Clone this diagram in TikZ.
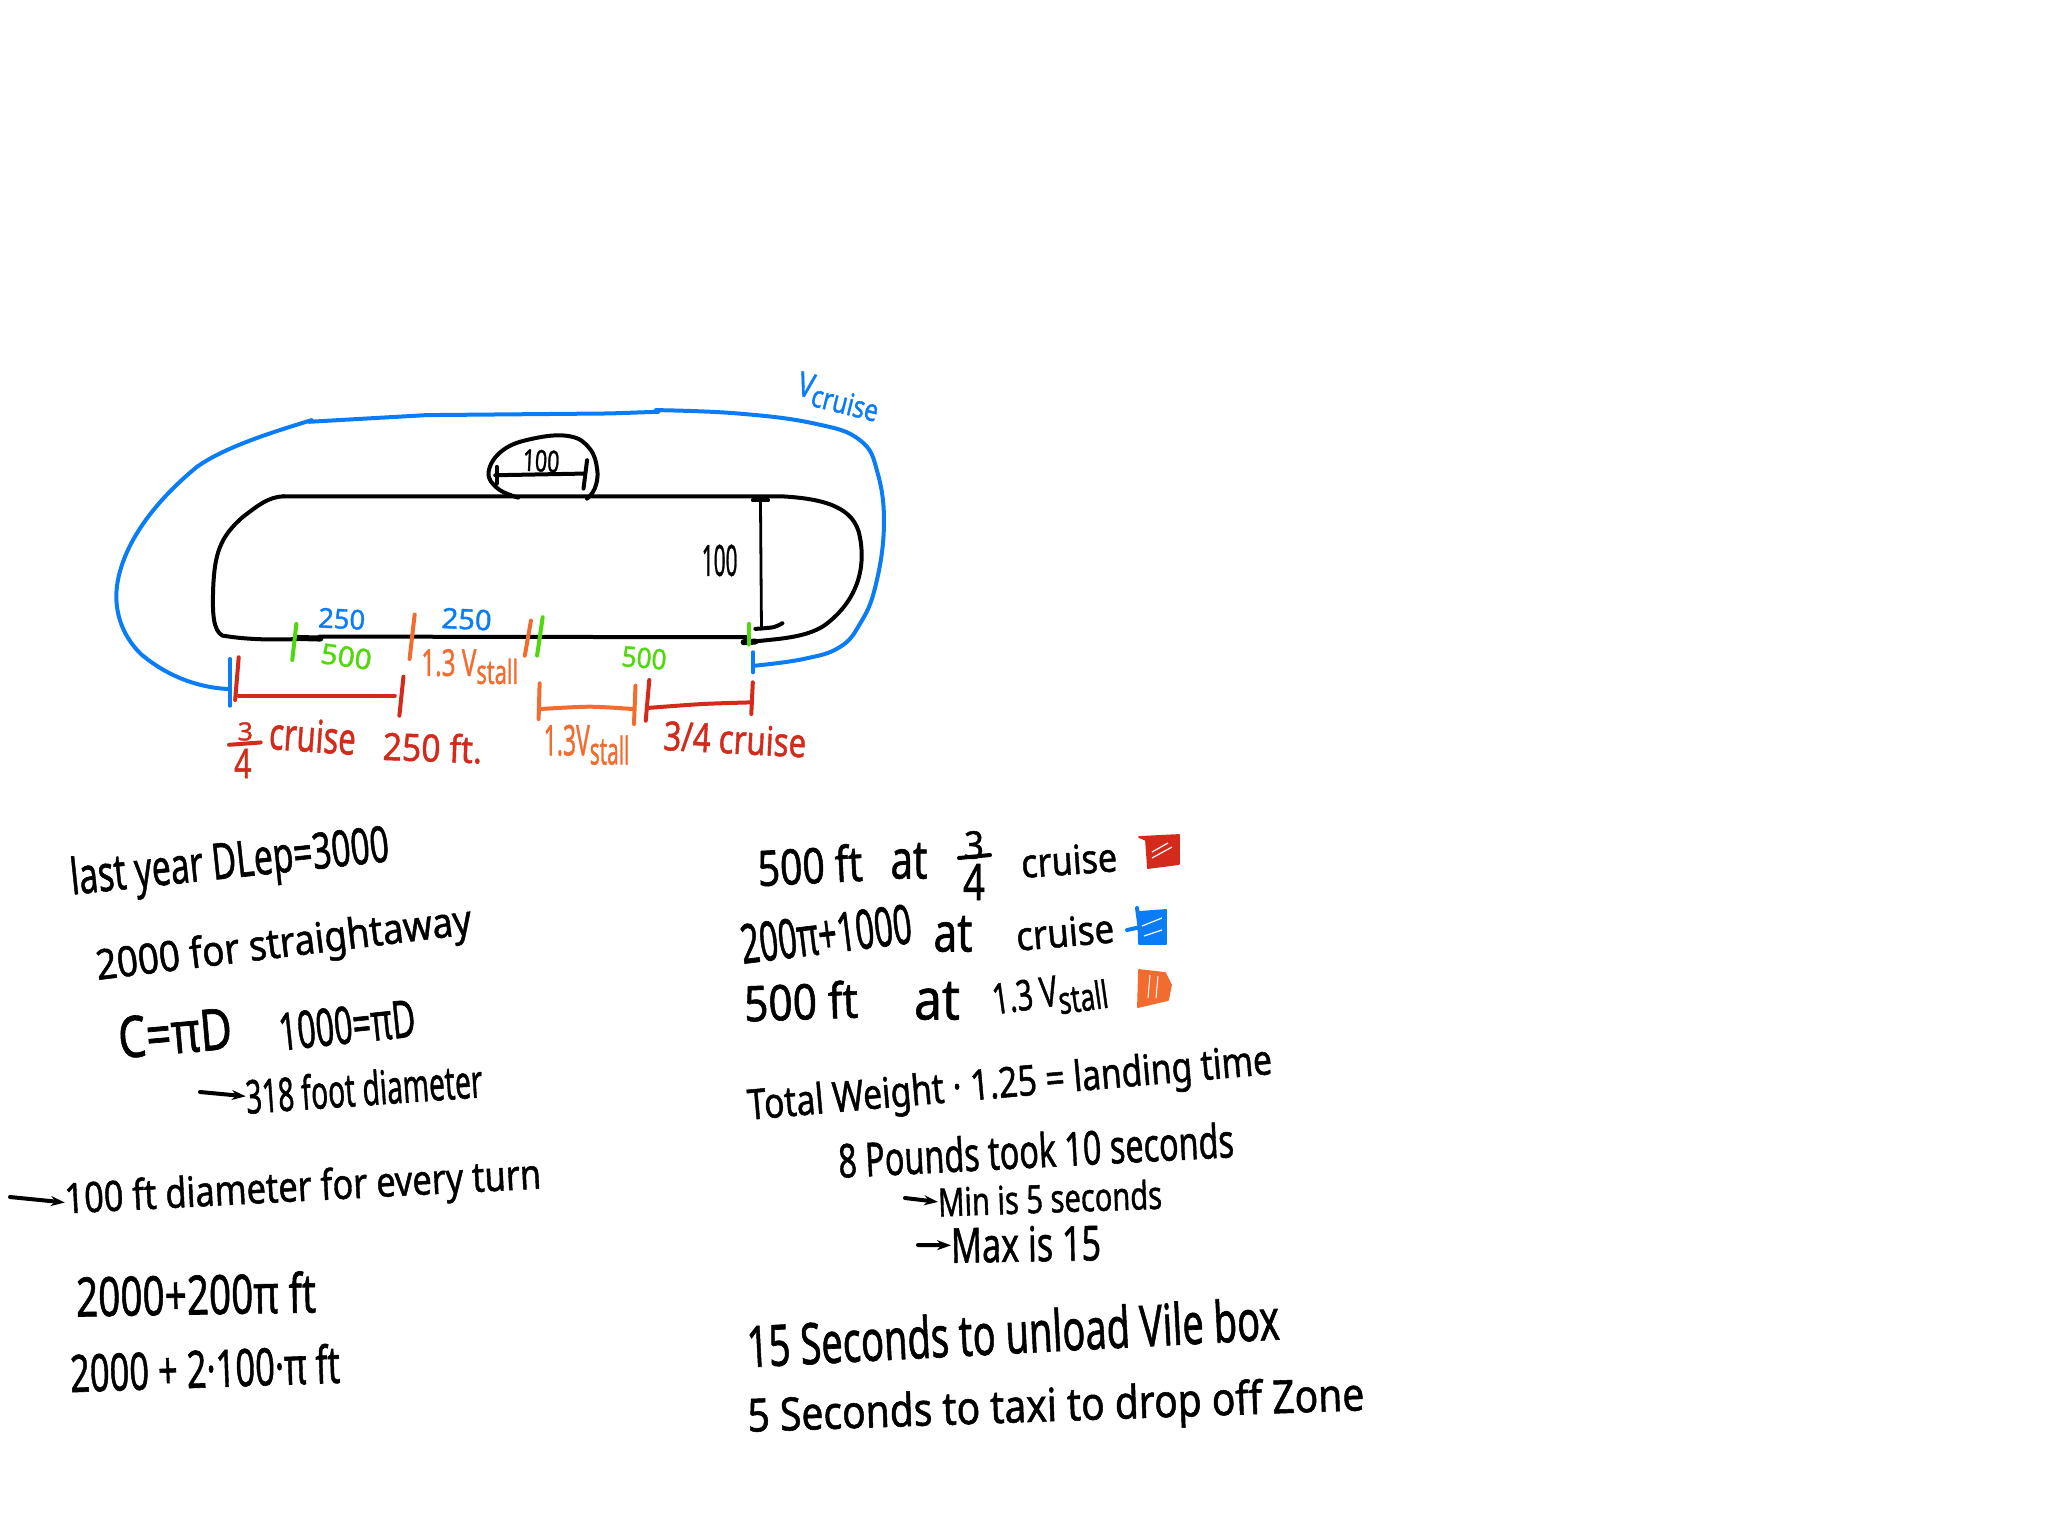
\documentclass[tikz,border=0pt]{standalone}
\usepackage{graphicx}
\usepackage{fontspec}
\setmainfont{Noto Sans}[FakeBold=1.2]
\usetikzlibrary{arrows.meta}
\definecolor{inkblue}{HTML}{0A7DF6}
\definecolor{inkred}{HTML}{D32A1B}
\definecolor{inkorange}{HTML}{F26C2F}
\definecolor{inkgreen}{HTML}{4FD80B}
\newdimen\cur
\newdimen\cury
\newcommand{\hw}[8][black]{\node[hand,text=#1,rotate=#7] (#2) at (#3,#4) {\resizebox*{#5\cur}{#6\cury}{#8}};}
\newcommand{\Vsub}[1]{V\raisebox{-0.4ex}{\small #1}}
\tikzset{
  hand/.style={inner sep=0pt,outer sep=0pt},
  pen/.style={line width=2pt,line cap=round,line join=round},
  penthin/.style={line width=1.4pt,line cap=round,line join=round},
  penthick/.style={line width=3pt,line cap=round},
  noteArrow/.style={line width=2pt,line cap=round,-{Stealth[length=7pt,width=5pt]}},
  swatch/.style={line width=0.9pt,line join=round}
}
\begin{document}
\begin{tikzpicture}[x=0.5pt,y=-0.5pt]
\useasboundingbox (0,0) rectangle (2048,1536);
\fill[white] (0,0) rectangle (2048,1536);
\cur=0.5pt \cury=0.5pt
% ---- diagram, in zoom-crop units
\begin{scope}[shift={(100,360)},x=0.255pt,y=-0.167pt]
\cur=0.255pt \cury=0.167pt
\draw[pen] (360,408) -- (1335,408) .. controls (1420,415) and (1480,440) .. (1490,530) .. controls (1505,650) and (1470,740) .. (1420,795) .. controls (1380,835) and (1320,835) .. (1270,845);
\draw[pen] (1270,830) -- (430,828);
\draw[pen] (430,832) .. controls (350,840) and (290,838) .. (240,825) .. controls (222,810) and (220,760) .. (222,680) .. controls (225,580) and (235,530) .. (280,470) .. controls (310,435) and (330,410) .. (360,408);
\draw[penthick] (385,832) -- (432,834);
\draw[penthick] (1262,845) -- (1285,843);
\draw[pen] plot[smooth,tension=0.7] coordinates {(820,412)(780,385)(762,335)(790,270)(850,235)(920,228)(960,265)(975,330)(970,385)(955,415)};
\draw[pen] (775,345) -- (950,340);
\draw[pen] (778,320) -- (778,370);
\draw[pen] (955,300) -- (948,385);
\hw{lblA}{865}{302}{72}{66}{-3}{100}
\draw[penthin] (1295,420) -- (1297,805);
\draw[pen] (1280,420) -- (1310,420);
\draw[pen] plot[smooth] coordinates {(1285,805)(1320,800)(1338,788)};
\hw{lblB}{1215}{600}{70}{95}{0}{100}
% blue
\draw[pen,inkblue] (250,985) .. controls (190,980) and (130,945) .. (80,880) .. controls (40,820) and (25,740) .. (35,660) .. controls (50,540) and (110,420) .. (190,320) .. controls (245,260) and (340,215) .. (415,180);
\draw[pen,inkblue] (410,185) -- (640,165) -- (1000,160) -- (1095,155);
\draw[pen,inkblue] plot[smooth,tension=0.7] coordinates {(1090,150)(1250,160)(1400,190)(1490,240)(1525,340)(1537,500)(1520,680)(1490,790)(1450,860)(1380,895)(1285,915)};
\draw[pen,inkblue] (255,895) -- (255,1035);
\draw[pen,inkblue] (1280,875) -- (1280,935);
\hw[inkblue]{lblVc}{1448}{110}{165}{95}{-14}{\Vsub{cruise}}
\hw[inkblue]{lblC}{474}{775}{92}{60}{-3}{250}
\hw[inkblue]{lblD}{719}{776}{98}{62}{-3}{250}
% green
\draw[pen,inkgreen] (385,790) -- (377,898);
\draw[pen,inkgreen] (868,770) -- (857,885);
\draw[pen,inkgreen] (1272,790) -- (1272,852);
\hw[inkgreen]{lblE}{483}{888}{100}{62}{-8}{500}
\hw[inkgreen]{lblF}{1067}{892}{88}{62}{-5}{500}
% orange
\draw[pen,inkorange] (617,762) -- (607,895);
\draw[pen,inkorange] (845,780) -- (833,885);
\hw[inkorange]{lblG}{725}{918}{190}{105}{0}{1.3 \Vsub{stall}}
\draw[pen,inkorange] (862,968) -- (860,1075);
\draw[pen,inkorange] plot[smooth] coordinates {(862,1045)(960,1038)(1045,1045)};
\draw[pen,inkorange] (1050,975) -- (1047,1090);
\hw[inkorange]{lblH}{954}{1152}{168}{120}{0}{1.3\Vsub{stall}}
% red
\draw[pen,inkred] (272,890) -- (265,1018);
\draw[pen,inkred] (272,1005) -- (578,1005);
\draw[pen,inkred] (595,948) -- (587,1065);
\draw[pen,inkred] (1077,958) -- (1070,1080);
\draw[pen,inkred] plot[smooth] coordinates {(1072,1042)(1180,1030)(1277,1025)};
\draw[pen,inkred] (1280,965) -- (1277,1060);
\hw[inkred]{lblI}{285}{1112}{30}{55}{0}{3}
\draw[pen,inkred] (253,1152) -- (315,1145);
\hw[inkred]{lblJ}{280}{1208}{34}{88}{0}{4}
\hw[inkred]{lblK}{417}{1125}{170}{100}{-4}{cruise}
\hw[inkred]{lblL}{652}{1160}{195}{88}{-2}{250 ft.}
\hw[inkred]{lblM}{1245}{1135}{280}{90}{-3}{3/4 cruise}
\end{scope}
% ---- notes, in full pixels
\cur=0.5pt \cury=0.5pt
\hw{n1}{230}{865}{320}{50}{6}{last year DLep=3000}
\hw{n2}{284}{946}{378}{42}{7}{2000 for straightaway}
\hw{n3}{175}{1033}{114}{42}{5}{C=πD}
\hw{n4}{347}{1025}{137}{38}{6}{1000=πD}
\hw{n5}{364}{1088}{237}{36}{4}{318 foot diameter}
\coordinate (a1s) at (200,1092);
\draw[noteArrow] (a1s) -- (n5.west);
\hw{n6}{303}{1190}{477}{42}{3}{100 ft diameter for every turn}
\coordinate (a2s) at (10,1197);
\draw[noteArrow] (a2s) -- (n6.west);
\hw{n7}{196}{1294}{240}{42}{1}{2000+200π ft}
\hw{n8}{205}{1368}{270}{40}{2}{2000 + 2·100·π ft}
% right column
\hw{r1}{810}{865}{105}{38}{3}{500 ft}
\hw{r2}{909}{861}{37}{36}{0}{at}
\hw{r3}{974}{845}{20}{28}{0}{3}
\draw[pen] (959,858) -- (990,855);
\hw{r4}{974}{882}{22}{36}{0}{4}
\hw{r5}{1069}{860}{96}{30}{4}{cruise}
\hw{r6}{826}{934}{172}{40}{7}{200π+1000}
\hw{r7}{953}{934}{39}{36}{0}{at}
\hw{r8}{1065}{932}{98}{30}{5}{cruise}
\hw{r9}{801}{1001}{114}{38}{2}{500 ft}
\hw{r10}{937}{1001}{46}{38}{0}{at}
\hw{r11}{1050}{996}{115}{40}{8}{1.3 \Vsub{stall}}
\hw{r12}{1010}{1086}{526}{42}{5}{Total Weight · 1.25 = landing time}
\hw{r13}{1036}{1150}{396}{36}{3}{8 Pounds took 10 seconds}
\hw{r14}{1050}{1198}{224}{30}{2}{Min is 5 seconds}
\coordinate (a3s) at (905,1198);
\draw[noteArrow] (a3s) -- (r14.west);
\hw{r15}{1026}{1244}{150}{36}{1}{Max is 15}
\coordinate (a4s) at (918,1245);
\draw[noteArrow] (a4s) -- (r15.west);
\hw{r16}{1013}{1332}{533}{44}{3}{15 Seconds to unload Vile box}
\hw{r17}{1056}{1409}{617}{46}{2}{5 Seconds to taxi to drop off Zone}
% swatches
\draw[swatch,inkred,fill=inkred] (1139,837) -- (1179,835) -- (1179,864) -- (1148,868) -- (1146,840) -- cycle;
\draw[white,line width=0.6pt] (1152,852) -- (1168,843) (1152,858) -- (1172,847);
\draw[swatch,inkblue,fill=inkblue] (1138,912) -- (1166,910) -- (1166,944) -- (1139,944) -- cycle;
\draw[pen,inkblue] (1127,930) -- (1150,925) (1137,908) -- (1140,930);
\draw[white,line width=0.6pt] (1142,926) -- (1162,918) (1144,936) -- (1162,930);
\draw[swatch,inkorange,fill=inkorange] (1139,970) -- (1165,973) -- (1171,985) -- (1168,1000) -- (1138,1007) -- cycle;
\draw[white,line width=0.5pt] (1150,975) -- (1148,998) (1158,976) -- (1156,998);
\end{tikzpicture}
\end{document}
